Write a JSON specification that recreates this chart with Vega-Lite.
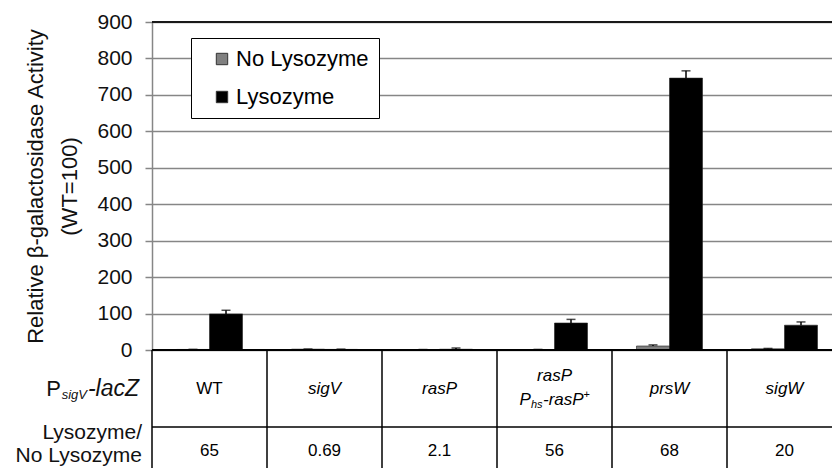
{
  "$schema": "https://vega.github.io/schema/vega-lite/v6.json",
  "background": "white",
  "padding": {"left": 15, "top": 11, "right": 0, "bottom": 0},
  "spacing": 0,
  "bounds": "flush",
  "config": {
    "font": "Liberation Sans",
    "view": {"stroke": null},
    "axisY": {
      "labelOverlap": false,
      "titleFontSize": 22, "titleFontWeight": "normal", "titleColor": "#111111",
      "titlePadding": 15, "titleLineHeight": 34,
      "labelFontSize": 21, "labelColor": "#111111", "labelPadding": 13,
      "tickSize": 7, "tickColor": "#868686", "tickWidth": 1.5,
      "domainColor": "#868686", "domainWidth": 1.5,
      "grid": true, "gridColor": "#868686", "gridWidth": 1.5
    }
  },
  "resolve": {"scale": {"x": "independent", "y": "independent"}},
  "datasets": {
    "bars": [
      {"strain": "WT", "treatment": "No Lysozyme", "value": 1.5, "upper": 1.8},
      {"strain": "WT", "treatment": "Lysozyme", "value": 99, "upper": 109},
      {"strain": "sigV", "treatment": "No Lysozyme", "value": 2.3, "upper": 2.7},
      {"strain": "sigV", "treatment": "Lysozyme", "value": 1.6, "upper": 2.4},
      {"strain": "rasP", "treatment": "No Lysozyme", "value": 1.0, "upper": 1.3},
      {"strain": "rasP", "treatment": "Lysozyme", "value": 2.1, "upper": 5.5},
      {"strain": "rasP Phs-rasP+", "treatment": "No Lysozyme", "value": 1.3, "upper": 1.6},
      {"strain": "rasP Phs-rasP+", "treatment": "Lysozyme", "value": 74, "upper": 84},
      {"strain": "prsW", "treatment": "No Lysozyme", "value": 11, "upper": 14},
      {"strain": "prsW", "treatment": "Lysozyme", "value": 746, "upper": 766},
      {"strain": "sigW", "treatment": "No Lysozyme", "value": 3.4, "upper": 4.3},
      {"strain": "sigW", "treatment": "Lysozyme", "value": 68, "upper": 77}
    ],
    "table": [
      {"strain": "WT", "ratio": "65"},
      {"strain": "sigV", "ratio": "0.69"},
      {"strain": "rasP", "ratio": "2.1"},
      {"strain": "rasP Phs-rasP+", "ratio": "56"},
      {"strain": "prsW", "ratio": "68"},
      {"strain": "sigW", "ratio": "20"}
    ]
  },
  "vconcat": [
    {
      "width": 680,
      "height": 328,
      "data": {"name": "bars"},
      "layer": [
        {
          "mark": {"type": "bar", "stroke": "#222222", "strokeWidth": 0.6},
          "encoding": {
            "x": {"field": "strain", "type": "nominal", "axis": null,
                  "scale": {"domain": ["WT", "sigV", "rasP", "rasP Phs-rasP+", "prsW", "sigW"], "range": [0, 690], "paddingInner": 0.426, "paddingOuter": 0.213}},
            "xOffset": {"field": "treatment", "type": "nominal", "scale": {"domain": ["No Lysozyme", "Lysozyme"]}},
            "y": {"field": "value", "type": "quantitative",
                  "scale": {"domain": [0, 900], "nice": false},
                  "axis": {"values": [0, 100, 200, 300, 400, 500, 600, 700, 800, 900], "tickCount": 10, "title": ["Relative β-galactosidase Activity", "(WT=100)"]}},
            "color": {"field": "treatment", "type": "nominal",
                      "scale": {"domain": ["No Lysozyme", "Lysozyme"], "range": ["#808080", "#000000"]},
                      "legend": {
                        "orient": "none", "legendX": 39, "legendY": 16, "title": null,
                        "fillColor": "white", "strokeColor": "black", "padding": 10,
                        "symbolType": "square", "symbolSize": 130, "symbolStrokeColor": "#333333", "symbolStrokeWidth": 1,
                        "symbolOffset": 10, "labelOffset": 3,
                        "labelFontSize": 22, "labelColor": "black", "rowPadding": 16
                      }}
          }
        },
        {
          "mark": {"type": "rule", "color": "black", "strokeWidth": 1.5},
          "encoding": {
            "x": {"field": "strain", "type": "nominal", "axis": null,
                  "scale": {"domain": ["WT", "sigV", "rasP", "rasP Phs-rasP+", "prsW", "sigW"], "range": [0, 690], "paddingInner": 0.426, "paddingOuter": 0.213}},
            "xOffset": {"field": "treatment", "type": "nominal", "scale": {"domain": ["No Lysozyme", "Lysozyme"]}},
            "y": {"field": "value", "type": "quantitative",
                  "axis": {"values": [0, 100, 200, 300, 400, 500, 600, 700, 800, 900], "tickCount": 10, "title": ["Relative β-galactosidase Activity", "(WT=100)"]}},
            "y2": {"field": "upper"}
          }
        },
        {
          "mark": {"type": "tick", "color": "black", "thickness": 1.5, "size": 9, "orient": "horizontal"},
          "encoding": {
            "x": {"field": "strain", "type": "nominal", "axis": null,
                  "scale": {"domain": ["WT", "sigV", "rasP", "rasP Phs-rasP+", "prsW", "sigW"], "range": [0, 690], "paddingInner": 0.426, "paddingOuter": 0.213}},
            "xOffset": {"field": "treatment", "type": "nominal", "scale": {"domain": ["No Lysozyme", "Lysozyme"]}},
            "y": {"field": "upper", "type": "quantitative",
                  "axis": {"values": [0, 100, 200, 300, 400, 500, 600, 700, 800, 900], "tickCount": 10, "title": ["Relative β-galactosidase Activity", "(WT=100)"]}}
          }
        },
        {
          "mark": {"type": "rule", "color": "#1a1a1a", "strokeWidth": 1.5},
          "encoding": {"y": {"datum": 900, "type": "quantitative",
                  "axis": {"values": [0, 100, 200, 300, 400, 500, 600, 700, 800, 900], "tickCount": 10, "title": ["Relative β-galactosidase Activity", "(WT=100)"]}}}
        },
        {
          "mark": {"type": "rule", "color": "black", "strokeWidth": 2},
          "encoding": {"y": {"datum": 0, "type": "quantitative",
                  "axis": {"values": [0, 100, 200, 300, 400, 500, 600, 700, 800, 900], "tickCount": 10, "title": ["Relative β-galactosidase Activity", "(WT=100)"]}}}
        }
      ]
    },
    {
      "width": 680,
      "height": 77,
      "data": {"name": "table"},
      "layer": [
        {
          "transform": [{"filter": "datum.strain == 'WT'"}],
          "mark": {"type": "text", "fontSize": 17, "color": "black"},
          "encoding": {
            "x": {"field": "strain", "type": "nominal", "axis": null,
                  "scale": {"domain": ["WT", "sigV", "rasP", "rasP Phs-rasP+", "prsW", "sigW"], "range": [0, 690], "paddingInner": 0, "paddingOuter": 0}},
            "text": {"field": "strain"}
          }
        },
        {
          "transform": [{"filter": "indexof(['sigV','rasP','prsW','sigW'], datum.strain) >= 0"}],
          "mark": {"type": "text", "fontSize": 17, "fontStyle": "italic", "color": "black"},
          "encoding": {
            "x": {"field": "strain", "type": "nominal", "axis": null,
                  "scale": {"domain": ["WT", "sigV", "rasP", "rasP Phs-rasP+", "prsW", "sigW"], "range": [0, 690], "paddingInner": 0, "paddingOuter": 0}},
            "text": {"field": "strain"}
          }
        },
        {
          "transform": [{"filter": "datum.strain == 'rasP Phs-rasP+'"}],
          "mark": {"type": "text", "text": "rasP", "fontSize": 17, "fontStyle": "italic", "color": "black", "dy": -13},
          "encoding": {
            "x": {"field": "strain", "type": "nominal", "axis": null,
                  "scale": {"domain": ["WT", "sigV", "rasP", "rasP Phs-rasP+", "prsW", "sigW"], "range": [0, 690], "paddingInner": 0, "paddingOuter": 0}}
          }
        },
        {
          "transform": [{"filter": "datum.strain == 'rasP Phs-rasP+'"}],
          "mark": {"type": "text", "text": "P", "fontSize": 17, "fontStyle": "italic", "color": "black", "align": "left", "dx": -35, "dy": 11},
          "encoding": {
            "x": {"field": "strain", "type": "nominal", "axis": null,
                  "scale": {"domain": ["WT", "sigV", "rasP", "rasP Phs-rasP+", "prsW", "sigW"], "range": [0, 690], "paddingInner": 0, "paddingOuter": 0}}
          }
        },
        {
          "transform": [{"filter": "datum.strain == 'rasP Phs-rasP+'"}],
          "mark": {"type": "text", "text": "hs", "fontSize": 11, "fontStyle": "italic", "color": "black", "align": "left", "dx": -23.5, "dy": 16},
          "encoding": {
            "x": {"field": "strain", "type": "nominal", "axis": null,
                  "scale": {"domain": ["WT", "sigV", "rasP", "rasP Phs-rasP+", "prsW", "sigW"], "range": [0, 690], "paddingInner": 0, "paddingOuter": 0}}
          }
        },
        {
          "transform": [{"filter": "datum.strain == 'rasP Phs-rasP+'"}],
          "mark": {"type": "text", "text": "-rasP", "fontSize": 17, "fontStyle": "italic", "color": "black", "align": "left", "dx": -11.5, "dy": 11},
          "encoding": {
            "x": {"field": "strain", "type": "nominal", "axis": null,
                  "scale": {"domain": ["WT", "sigV", "rasP", "rasP Phs-rasP+", "prsW", "sigW"], "range": [0, 690], "paddingInner": 0, "paddingOuter": 0}}
          }
        },
        {
          "transform": [{"filter": "datum.strain == 'rasP Phs-rasP+'"}],
          "mark": {"type": "text", "text": "+", "fontSize": 11, "color": "black", "align": "left", "dx": 29, "dy": 6},
          "encoding": {
            "x": {"field": "strain", "type": "nominal", "axis": null,
                  "scale": {"domain": ["WT", "sigV", "rasP", "rasP Phs-rasP+", "prsW", "sigW"], "range": [0, 690], "paddingInner": 0, "paddingOuter": 0}}
          }
        },
        {
          "transform": [{"filter": "datum.strain == 'WT'"}],
          "mark": {"type": "text", "text": "-lacZ", "fontSize": 23, "fontStyle": "italic", "color": "#111111", "align": "right", "dx": -13},
          "encoding": {
            "x": {"field": "strain", "type": "nominal", "axis": null, "bandPosition": 0,
                  "scale": {"domain": ["WT", "sigV", "rasP", "rasP Phs-rasP+", "prsW", "sigW"], "range": [0, 690], "paddingInner": 0, "paddingOuter": 0}}
          }
        },
        {
          "transform": [{"filter": "datum.strain == 'WT'"}],
          "mark": {"type": "text", "text": "sigV", "fontSize": 13, "fontStyle": "italic", "color": "#111111", "align": "right", "dx": -65, "dy": 6},
          "encoding": {
            "x": {"field": "strain", "type": "nominal", "axis": null, "bandPosition": 0,
                  "scale": {"domain": ["WT", "sigV", "rasP", "rasP Phs-rasP+", "prsW", "sigW"], "range": [0, 690], "paddingInner": 0, "paddingOuter": 0}}
          }
        },
        {
          "transform": [{"filter": "datum.strain == 'WT'"}],
          "mark": {"type": "text", "text": "P", "fontSize": 22, "color": "#111111", "align": "right", "dx": -91},
          "encoding": {
            "x": {"field": "strain", "type": "nominal", "axis": null, "bandPosition": 0,
                  "scale": {"domain": ["WT", "sigV", "rasP", "rasP Phs-rasP+", "prsW", "sigW"], "range": [0, 690], "paddingInner": 0, "paddingOuter": 0}}
          }
        },
        {
          "mark": {"type": "rule", "color": "black", "strokeWidth": 1.5},
          "encoding": {
            "x": {"field": "strain", "type": "nominal", "axis": null, "bandPosition": 0,
                  "scale": {"domain": ["WT", "sigV", "rasP", "rasP Phs-rasP+", "prsW", "sigW"], "range": [0, 690], "paddingInner": 0, "paddingOuter": 0}}
          }
        }
      ]
    },
    {
      "width": 680,
      "height": 41,
      "data": {"name": "table"},
      "layer": [
        {
          "mark": {"type": "text", "fontSize": 17, "color": "black", "dy": 3},
          "encoding": {
            "x": {"field": "strain", "type": "nominal", "axis": null,
                  "scale": {"domain": ["WT", "sigV", "rasP", "rasP Phs-rasP+", "prsW", "sigW"], "range": [0, 690], "paddingInner": 0, "paddingOuter": 0}},
            "text": {"field": "ratio"}
          }
        },
        {
          "transform": [{"filter": "datum.strain == 'WT'"}],
          "mark": {"type": "text", "text": ["Lysozyme/", "No Lysozyme"], "fontSize": 21, "lineHeight": 23, "color": "#111111", "align": "right", "dx": -10, "dy": -15},
          "encoding": {
            "x": {"field": "strain", "type": "nominal", "axis": null, "bandPosition": 0,
                  "scale": {"domain": ["WT", "sigV", "rasP", "rasP Phs-rasP+", "prsW", "sigW"], "range": [0, 690], "paddingInner": 0, "paddingOuter": 0}}
          }
        },
        {
          "mark": {"type": "rule", "color": "black", "strokeWidth": 1.5},
          "encoding": {
            "x": {"field": "strain", "type": "nominal", "axis": null, "bandPosition": 0,
                  "scale": {"domain": ["WT", "sigV", "rasP", "rasP Phs-rasP+", "prsW", "sigW"], "range": [0, 690], "paddingInner": 0, "paddingOuter": 0}}
          }
        },
        {
          "transform": [{"filter": "datum.strain == 'WT'"}],
          "mark": {"type": "rule", "color": "black", "strokeWidth": 1.5},
          "encoding": {
            "y": {"datum": "ratio", "type": "nominal", "bandPosition": 0, "axis": null,
                  "scale": {"type": "band", "domain": ["ratio"], "paddingInner": 0, "paddingOuter": 0}}
          }
        }
      ]
    }
  ]
}
